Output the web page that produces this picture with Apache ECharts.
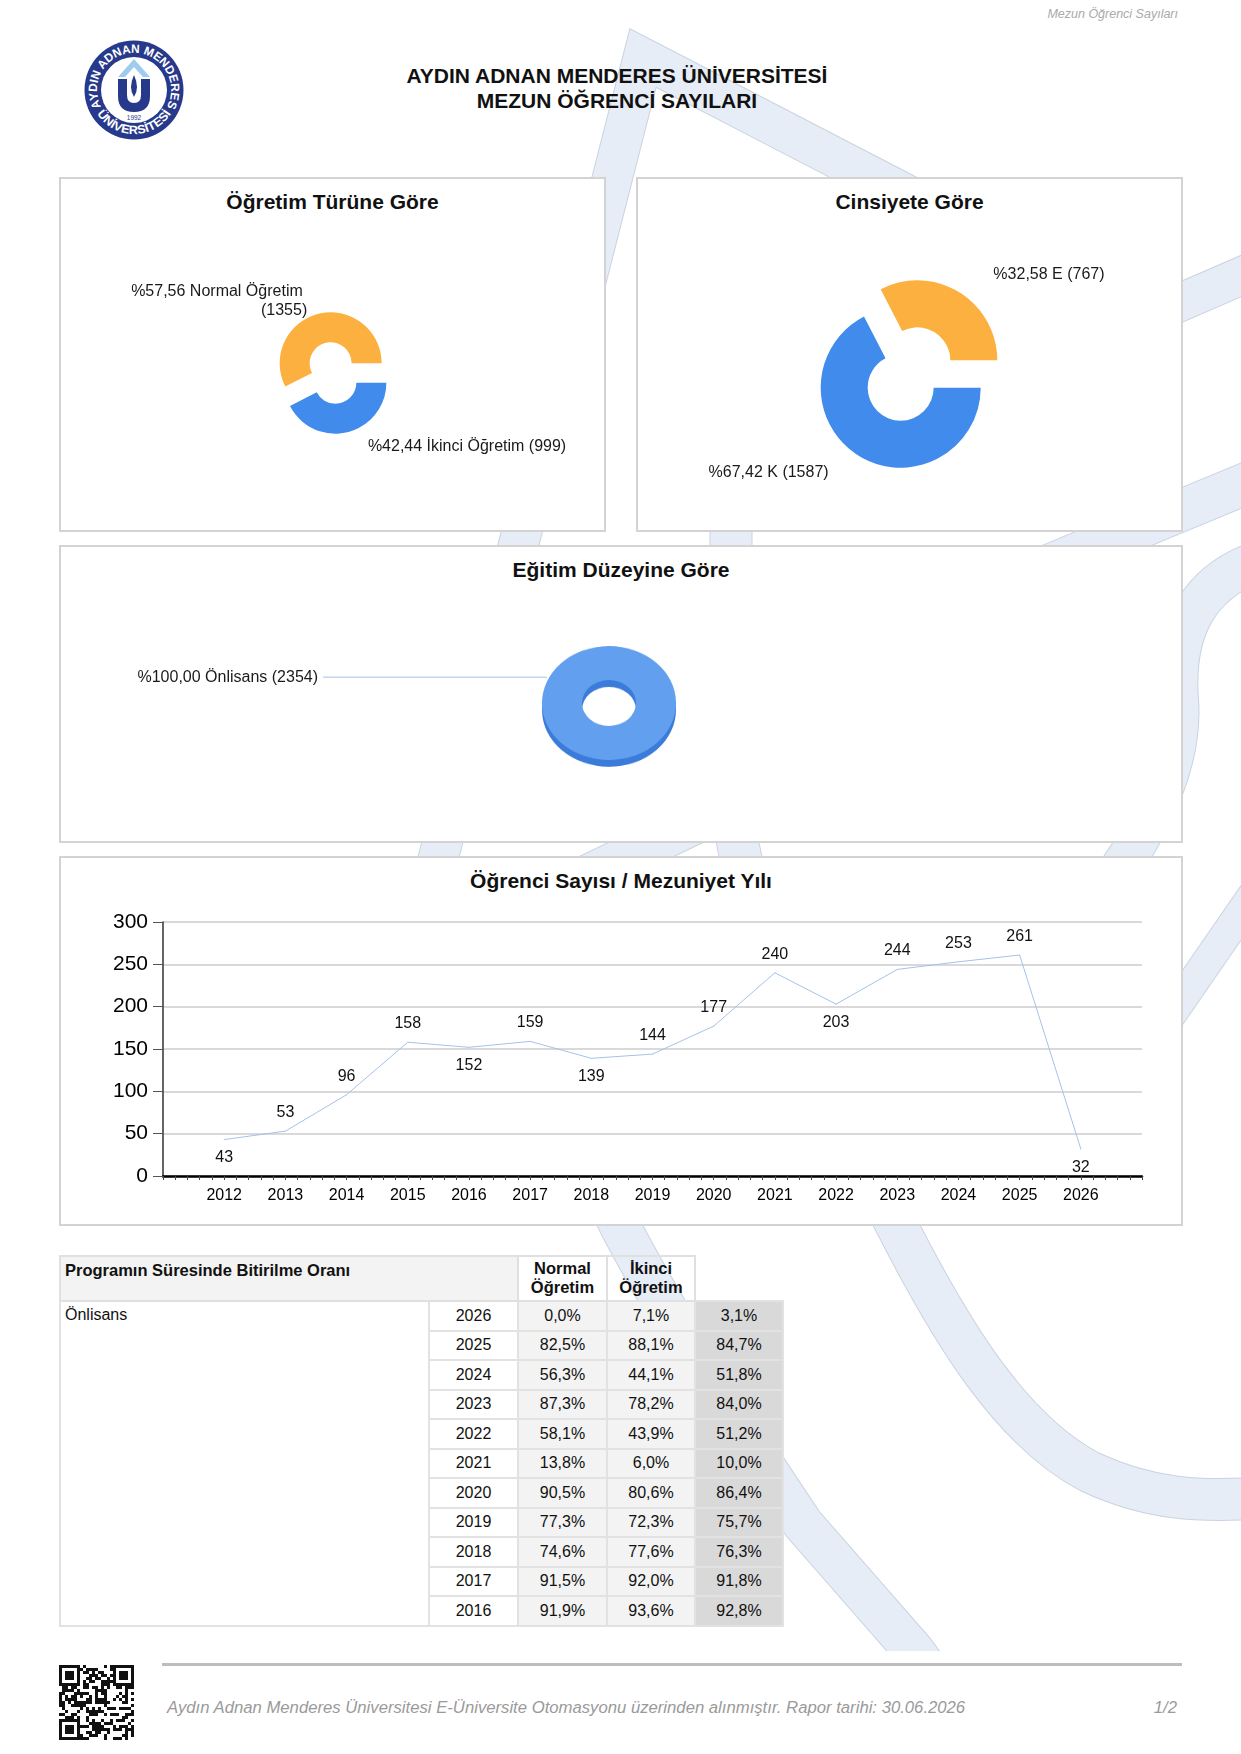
<!DOCTYPE html>
<html lang="tr">
<head>
<meta charset="utf-8">
<title>Mezun Öğrenci Sayıları</title>
<script src="https://cdn.jsdelivr.net/npm/echarts@6/dist/echarts.min.js"></script>
<style>
  html, body { margin: 0; padding: 0; background: #fff; }
  body {
    width: 1241px; height: 1754px; position: relative; overflow: hidden;
    font-family: "Liberation Sans", Arial, sans-serif; color: #111;
  }
  #wm { position: absolute; left: 0; top: 0; z-index: 0; }
  .box { position: absolute; background: #fff; border: 2px solid #d3d3d3; box-sizing: border-box; z-index: 1; }
  .box .ttl { position: absolute; left: 0; right: 0; top: 10px; text-align: center; font-weight: bold; font-size: 21px; line-height: 26px; color: #111; }
  #main { position: absolute; left: 0; top: 0; width: 1241px; height: 1240px; z-index: 3; }
  #disk { position: absolute; left: 509px; top: 603px; width: 200px; height: 200px; z-index: 2;
          transform: scaleY(0.85); transform-origin: 100px 100px; }
  #hdr { position: absolute; right: 63px; top: 7px; font-style: italic; font-size: 12.5px; color: #aaa; z-index: 2; }
  #title { position: absolute; left: 0; width: 1234px; top: 63px; text-align: center; font-weight: bold; font-size: 21px; line-height: 25px; z-index: 2; }
  #logo { position: absolute; left: 84px; top: 40px; z-index: 2; }

  #rate { position: absolute; left: 59px; top: 1255px; z-index: 2; border-collapse: collapse; table-layout: fixed; font-size: 16px; }
  #rate td { padding: 0; box-sizing: border-box; }
  #rate thead td { height: 45px; font-weight: bold; vertical-align: top; border: 2px solid #e0e0e0; line-height: 19px; padding-top: 2px; font-size: 16.5px; }
  #rate .h1 { background: #f3f3f3; text-align: left; padding-left: 4px; padding-top: 4px; }
  #rate .h2 { text-align: center; background: transparent; }
  #rate .hx { border: none !important; background: transparent; }
  #rate tbody td { height: 29.5px; border: 2px solid #e2e2e2; text-align: center; }
  #rate .lvl { background: #fff; text-align: left; vertical-align: top; padding: 4px 4px 0 4px; }
  #rate .yr { background: #fff; }
  #rate .c { background: #f3f3f3; }
  #rate .t { background: #d9d9d9; }

  #fline { position: absolute; left: 162px; top: 1663px; width: 1020px; height: 3px; background: #bdbdbd; z-index: 2; }
  #ftxt { position: absolute; left: 167px; top: 1699px; font-style: italic; font-size: 16.7px; line-height: 18px; color: #9a9a9a; z-index: 2; }
  #fpage { position: absolute; right: 64px; top: 1699px; font-style: italic; font-size: 16.7px; line-height: 18px; color: #9a9a9a; z-index: 2; }
  #qr { position: absolute; left: 59px; top: 1665px; z-index: 2; }
</style>
</head>
<body>

<svg id="wm" width="1241" height="1754" viewBox="0 0 1241 1754">
  <defs>
    <clipPath id="wmclip"><rect x="0" y="0" width="1241" height="1651"/></clipPath>
  </defs>
  <g clip-path="url(#wmclip)" fill="none" stroke-linejoin="miter" stroke-miterlimit="10">
    <g stroke="#c9d3e1" id="wmEdge"></g>
    <g stroke="#e7edf6" id="wmFill"></g>
  </g>
</svg>

<div id="hdr">Mezun Öğrenci Sayıları</div>

<svg id="logo" width="100" height="100" viewBox="0 0 100 100">
  <defs>
    <path id="arcTop" d="M 18,68.5 A 37 37 0 1 1 82,68.5"/>
    <path id="arcBot" d="M 11.9,72 A 44 44 0 0 0 88.1,72"/>
  </defs>
  <circle cx="50" cy="50" r="49.5" fill="#27398b"/>
  <circle cx="50" cy="50" r="33" fill="#fff"/>
  <text font-family="Liberation Sans, Arial" font-weight="bold" font-size="12" fill="#fff">
    <textPath href="#arcTop" startOffset="2" textLength="151" lengthAdjust="spacingAndGlyphs">AYDIN ADNAN MENDERES</textPath>
  </text>
  <text font-family="Liberation Sans, Arial" font-weight="bold" font-size="12" fill="#fff">
    <textPath href="#arcBot" startOffset="2" textLength="88" lengthAdjust="spacingAndGlyphs">ÜNİVERSİTESİ</textPath>
  </text>
  <polygon points="34,37 50,19 66,37 59,37 50,27 41,37" fill="#9fcbee"/>
  <path d="M 34,39 L 34,56 Q 34,72 50,72 Q 66,72 66,56 L 66,39 L 57,39 L 57,55 Q 57,63 50,63 Q 43,63 43,55 L 43,39 Z" fill="#27398b"/>
  <path d="M 50,35 Q 56,48 50,57 Q 44,48 50,35 Z" fill="#27398b"/>
  <text x="50" y="80" font-family="Liberation Sans, Arial" font-size="6.5" fill="#27398b" text-anchor="middle">1992</text>
</svg>

<div id="title">AYDIN ADNAN MENDERES ÜNİVERSİTESİ<br>MEZUN ÖĞRENCİ SAYILARI</div>

<div class="box" style="left:59px; top:177px; width:547px; height:355px;"><div class="ttl">Öğretim Türüne Göre</div></div>
<div class="box" style="left:636px; top:177px; width:547px; height:355px;"><div class="ttl">Cinsiyete Göre</div></div>
<div class="box" style="left:59px; top:545px; width:1124px; height:298px;"><div class="ttl">Eğitim Düzeyine Göre</div></div>
<div class="box" style="left:59px; top:856px; width:1124px; height:370px;"><div class="ttl">Öğrenci Sayısı / Mezuniyet Yılı</div></div>

<div id="disk"></div>
<div id="main"></div>

<table id="rate">
  <colgroup>
    <col style="width:369px"><col style="width:89px"><col style="width:89px"><col style="width:88px"><col style="width:88px">
  </colgroup>
  <thead>
    <tr>
      <td class="h1" colspan="2">Programın Süresinde Bitirilme Oranı</td>
      <td class="h2">Normal<br>Öğretim</td>
      <td class="h2">İkinci<br>Öğretim</td>
      <td class="hx"></td>
    </tr>
  </thead>
  <tbody id="rateBody"></tbody>
</table>

<div id="fline"></div>
<svg id="qr" width="75" height="75" viewBox="0 0 75 75"></svg>
<div id="ftxt">Aydın Adnan Menderes Üniversitesi E-Üniversite Otomasyonu üzerinden alınmıştır. Rapor tarihi: 30.06.2026</div>
<div id="fpage">1/2</div>

<script>
// ---- veriler ----
var OGRETIM_NAMES = ['Normal Öğretim', 'İkinci Öğretim'];
var OGRETIM_VALUES = [1355, 999];

var CINSIYET_NAMES = ['E', 'K'];
var CINSIYET_VALUES = [767, 1587];

var DUZEY_NAMES = ['Önlisans'];
var DUZEY_VALUES = [2354];

var YEARS = [2012, 2013, 2014, 2015, 2016, 2017, 2018, 2019, 2020, 2021, 2022, 2023, 2024, 2025, 2026];
var GRADUATES = [43, 53, 96, 158, 152, 159, 139, 144, 177, 240, 203, 244, 253, 261, 32];

var RATE_YEARS = [2026, 2025, 2024, 2023, 2022, 2021, 2020, 2019, 2018, 2017, 2016];
var RATE_NORMAL = [0.0, 82.5, 56.3, 87.3, 58.1, 13.8, 90.5, 77.3, 74.6, 91.5, 91.9];
var RATE_IKINCI = [7.1, 88.1, 44.1, 78.2, 43.9, 6.0, 80.6, 72.3, 77.6, 92.0, 93.6];
var RATE_TOTAL = [3.1, 84.7, 51.8, 84.0, 51.2, 10.0, 86.4, 75.7, 76.3, 91.8, 92.8];

var PIE_COLORS = ['#fbb040', '#418bec'];
var FONT = '"Liberation Sans", Arial, sans-serif';

// ---- arka plan filigranı ----
(function () {
  var bands = [
    ['M 402,1000 L 643,58 L 1000,243', 39],
    ['M 1080,346 L 1262,267', 37],
    ['M 1040,569 L 1262,477', 41],
    ['M 1262,560 Q 1170,590 1178,700 Q 1185,790 1090,910', 40],
    ['M 1272,868 L 1100,1117', 30],
    ['M 480,927 L 800,773', 40],
    ['M 731,470 L 731,780 C 731,900 820,1080 897,1226 C 950,1330 1010,1430 1090,1472 C 1150,1500 1200,1502 1262,1498', 41],
    ['M 570,1120 L 620,1226 C 680,1340 760,1460 803,1524 L 914,1651 L 950,1700', 40]
  ];
  var ns = 'http://www.w3.org/2000/svg';
  var edge = document.getElementById('wmEdge');
  var fill = document.getElementById('wmFill');
  bands.forEach(function (b) {
    var p1 = document.createElementNS(ns, 'path');
    p1.setAttribute('d', b[0]); p1.setAttribute('stroke-width', b[1] + 2);
    edge.appendChild(p1);
    var p2 = document.createElementNS(ns, 'path');
    p2.setAttribute('d', b[0]); p2.setAttribute('stroke-width', b[1]);
    fill.appendChild(p2);
  });
})();

// ---- QR benzeri kod ----
(function () {
  var ns = 'http://www.w3.org/2000/svg';
  var svg = document.getElementById('qr');
  var n = 25, s = 3, seed = 7;
  function rnd() { seed = (seed * 1103515245 + 12345) % 2147483648; return seed / 2147483648; }
  function finder(r, c) {
    return function (i, j) {
      var a = i - r, b = j - c;
      if (a < 0 || b < 0 || a > 6 || b > 6) return null;
      if (a === 0 || b === 0 || a === 6 || b === 6) return 1;
      if (a >= 2 && a <= 4 && b >= 2 && b <= 4) return 1;
      return 0;
    };
  }
  var fs = [finder(0, 0), finder(0, n - 7), finder(n - 7, 0)];
  for (var i = 0; i < n; i++) {
    for (var j = 0; j < n; j++) {
      var on = null;
      for (var k = 0; k < 3; k++) { var f = fs[k](i, j); if (f !== null) on = f; }
      if (on === null) on = rnd() < 0.5 ? 1 : 0;
      if (on) {
        var r = document.createElementNS(ns, 'rect');
        r.setAttribute('x', j * s); r.setAttribute('y', i * s);
        r.setAttribute('width', s); r.setAttribute('height', s);
        r.setAttribute('fill', '#111');
        svg.appendChild(r);
      }
    }
  }
})();

// ---- tablo ----
(function () {
  function fmt(v) { return v.toFixed(1).replace('.', ',') + '%'; }
  var html = '';
  RATE_YEARS.forEach(function (y, i) {
    html += '<tr>' +
      (i === 0 ? '<td class="lvl" rowspan="' + RATE_YEARS.length + '">' + DUZEY_NAMES[0] + '</td>' : '') +
      '<td class="yr">' + y + '</td>' +
      '<td class="c">' + fmt(RATE_NORMAL[i]) + '</td>' +
      '<td class="c">' + fmt(RATE_IKINCI[i]) + '</td>' +
      '<td class="t">' + fmt(RATE_TOTAL[i]) + '</td></tr>';
  });
  document.getElementById('rateBody').innerHTML = html;
})();

// ---- 3B görünümlü halka (dikeyde basık) ----
(function () {
  var diskChart = echarts.init(document.getElementById('disk'));
  diskChart.setOption({
    animation: false,
    series: [
      {
        // alt yüz
        type: 'pie', center: [100, 108], radius: [27, 67], startAngle: 338, silent: true,
        label: { show: false }, labelLine: { show: false },
        data: DUZEY_NAMES.map(function (n, i) {
          return { name: n, value: DUZEY_VALUES[i], itemStyle: { color: '#3b7bd9' } };
        })
      },
      {
        // üst yüz
        type: 'pie', center: [100, 100], radius: [27, 67], startAngle: 338, silent: true,
        label: { show: false }, labelLine: { show: false },
        data: DUZEY_NAMES.map(function (n, i) {
          return { name: n, value: DUZEY_VALUES[i], itemStyle: { color: '#62a0ef' } };
        })
      }
    ]
  });
})();

// ---- grafikler ----
(function () {
  var myChart = echarts.init(document.getElementById('main'));

  function pieLabel(p) {
    return '%' + p.percent.toFixed(2).replace('.', ',') + ' ' + p.name + ' (' + p.value + ')';
  }

  function isLow(i) {
    var v = GRADUATES[i];
    var prev = i > 0 ? GRADUATES[i - 1] : Infinity;
    var next = i < GRADUATES.length - 1 ? GRADUATES[i + 1] : Infinity;
    return v < prev && v < next;
  }

  var lineData = YEARS.map(function (y, i) {
    return { value: [y, GRADUATES[i]], label: { position: isLow(i) ? 'bottom' : 'top' } };
  });

  var labelBase = { show: true, position: 'outside', formatter: pieLabel, fontSize: 16, color: '#1a1a1a', fontFamily: FONT };

  var option = {
    animation: false,
    textStyle: { fontFamily: FONT },
    grid: { left: 163, top: 922, width: 979, height: 254 },
    xAxis: {
      type: 'value', min: 2011, max: 2027, interval: 1,
      axisLine: { lineStyle: { color: '#000', width: 2.5 } },
      axisTick: { show: true, length: 4, lineStyle: { color: '#444' } },
      minorTick: { show: true, splitNumber: 5, length: 4, lineStyle: { color: '#444' } },
      splitLine: { show: false },
      axisLabel: {
        fontSize: 16, color: '#000', margin: 12,
        formatter: function (v) { return (v >= YEARS[0] && v <= YEARS[YEARS.length - 1]) ? String(v) : ''; }
      }
    },
    yAxis: {
      type: 'value', min: 0, max: 300, interval: 50,
      axisLine: { show: true, lineStyle: { color: '#333', width: 1.5 } },
      axisTick: { show: true, length: 10, lineStyle: { color: '#555' } },
      splitLine: { lineStyle: { color: '#d9d9d9', width: 2 } },
      axisLabel: { fontSize: 21, color: '#000', margin: 15 }
    },
    series: [
      {
        type: 'pie', center: [333, 373], radius: [21, 51], startAngle: 0, clockwise: false,
        selectedMode: 'multiple', selectedOffset: 10, avoidLabelOverlap: false, silent: true,
        label: labelBase,
        labelLine: { show: false, length: 15, length2: 12 },
        data: OGRETIM_NAMES.map(function (n, i) {
          var d = { name: n, value: OGRETIM_VALUES[i], selected: true, itemStyle: { color: PIE_COLORS[i] } };
          if (i === 0) {
            d.label = { width: 200, overflow: 'break', lineHeight: 19 };
            d.labelLine = { length: 12.5, length2: 3.5 };
          }
          return d;
        })
      },
      {
        type: 'pie', center: [909, 374], radius: [33, 80], startAngle: 0, clockwise: false,
        selectedMode: 'multiple', selectedOffset: 16, avoidLabelOverlap: false, silent: true,
        label: labelBase,
        labelLine: { show: false, length: 20, length2: 19 },
        data: CINSIYET_NAMES.map(function (n, i) {
          var d = { name: n, value: CINSIYET_VALUES[i], selected: true, itemStyle: { color: PIE_COLORS[i] } };
          if (i === 1) d.labelLine = { length2: 15 };
          return d;
        })
      },
      {
        // halkanın etiketi ve etiket çizgisi (halka yukarıdaki basık grafikte çizili)
        type: 'pie', center: [609, 703], radius: [27, 67], startAngle: 338, silent: true,
        avoidLabelOverlap: false,
        label: labelBase,
        labelLine: { show: true, length: 2, length2: 222, lineStyle: { color: '#a6c2e6', width: 1 } },
        data: DUZEY_NAMES.map(function (n, i) {
          return { name: n, value: DUZEY_VALUES[i], itemStyle: { color: 'rgba(0,0,0,0)' } };
        })
      },
      {
        type: 'line', symbol: 'circle', symbolSize: 1, silent: true,
        lineStyle: { color: '#a4c2e8', width: 1 },
        itemStyle: { color: '#a4c2e8' },
        label: { show: true, fontSize: 16, color: '#111', distance: 10 },
        data: lineData
      }
    ]
  };

  myChart.setOption(option);

  window.addEventListener('resize', function () {
    myChart.resize();
  });
})();
</script>
</body>
</html>
